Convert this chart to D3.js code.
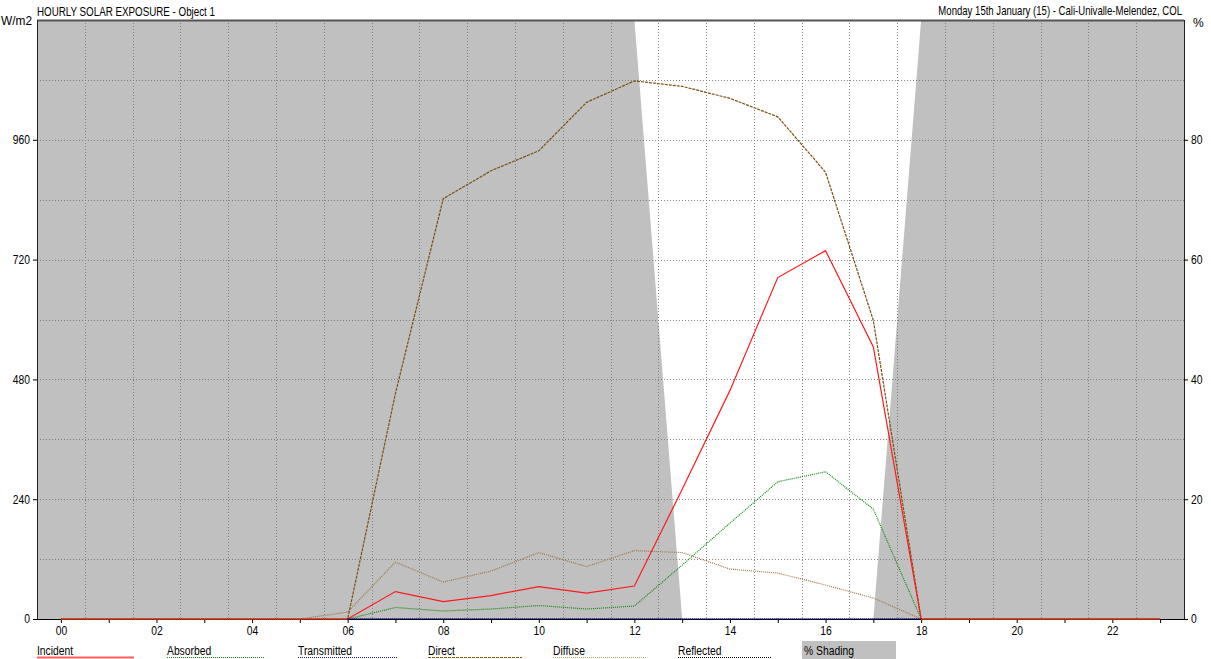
<!DOCTYPE html>
<html>
<head>
<meta charset="utf-8">
<script src="https://cdn.jsdelivr.net/npm/d3@7"></script>
<style>
html,body{margin:0;padding:0;background:#fff;}
svg{display:block;font-family:"Liberation Sans","Arial",sans-serif;}
</style>
</head>
<body>
<svg id="chart" width="1211" height="659"></svg>
<script>
const hours = d3.range(0, 24);
const hourLabels = ["00","02","04","06","08","10","12","14","16","18","20","22"];
const leftTicks = [0, 240, 480, 720, 960];
const rightTicks = [0, 20, 40, 60, 80];
const incident    = [0,0,0,0,0,0,0,55,35,47,65,52,66,260,458,684,738,545,0,0,0,0,0,0];
const absorbed    = [0,0,0,0,0,0,0,23,16,20,27,20,26,108,192,275,295,220,0,0,0,0,0,0];
const transmitted = [null,null,null,null,null,null,0,0,0,0,0,0,0,0,0,0,0,0,0,null,null,null,null,null];
const direct      = [0,0,0,0,0,0,0,452,842,898,938,1035,1078,1067,1043,1006,895,598,0,0,0,0,0,0];
const diffuse     = [0,0,0,0,0,0,14,114,74,96,133,105,137,133,100,92,68,42,0,0,0,0,0,0];
const reflected   = [null,null,null,null,null,null,0,0,0,0,0,0,0,0,0,0,0,0,0,null,null,null,null,null];
const shading     = [100,100,100,100,100,100,100,100,100,100,100,100,100,0,0,0,0,0,100,100,100,100,100,100];

const legendNames = ["Incident","Absorbed","Transmitted","Direct","Diffuse","Reflected","% Shading"];

const svg = d3.select("#chart");
const L = 37, R = 1184, T = 20, B = 619;
const x = d3.scaleLinear().domain([-0.5, 23.5]).range([L, R]);
const y = d3.scaleLinear().domain([0, 1200]).range([B, T]);
const y2 = d3.scaleLinear().domain([0, 100]).range([B, T]);
const NARROW = 0.86;

function condense(sel, ratio) {
  sel.each(function() {
    const w = this.getComputedTextLength();
    if (w > 0) d3.select(this).attr("textLength", w * ratio).attr("lengthAdjust", "spacingAndGlyphs");
  });
}

// plot background
svg.append("rect").attr("x", L).attr("y", T).attr("width", R - L).attr("height", B - T).attr("fill", "#fff");

// shading area
const shadePts = [[-0.5, shading[0]]].concat(hours.map(h => [h, shading[h]])).concat([[23.5, shading[23]]]);
svg.append("path")
  .datum(shadePts)
  .attr("fill", "#c0c0c0")
  .attr("d", d3.area().x(d => x(d[0])).y0(B).y1(d => y2(d[1])));

// grid
const g = svg.append("g");
d3.range(0.5, 23, 1).forEach(h => {
  g.append("line").attr("x1", Math.round(x(h)) + 0.5).attr("x2", Math.round(x(h)) + 0.5).attr("y1", T).attr("y2", B)
    .attr("stroke", "#808080").attr("stroke-width", 1).attr("stroke-dasharray", "1,2");
});
d3.range(120, 1200, 120).forEach(v => {
  g.append("line").attr("x1", L).attr("x2", R).attr("y1", Math.round(y(v)) + 0.5).attr("y2", Math.round(y(v)) + 0.5)
    .attr("stroke", "#808080").attr("stroke-width", 1).attr("stroke-dasharray", "1,2");
});

// frame
svg.append("line").attr("x1", L).attr("x2", R).attr("y1", T + 0.5).attr("y2", T + 0.5).attr("stroke", "#555").attr("stroke-width", 2);
svg.append("line").attr("x1", L + 0.5).attr("x2", L + 0.5).attr("y1", T).attr("y2", B).attr("stroke", "#222");
svg.append("line").attr("x1", R + 0.5).attr("x2", R + 0.5).attr("y1", T).attr("y2", B).attr("stroke", "#222");

// x axis
const xAxis = d3.axisBottom(x).tickValues(hours).tickSize(4).tickPadding(3)
  .tickFormat(h => (h % 2 === 0 ? hourLabels[h / 2] : ""));
const xa = svg.append("g").attr("transform", `translate(0,${B})`).call(xAxis);
xa.select(".domain").attr("d", `M${L},0.5H${R}`).attr("stroke", "#000");
xa.selectAll("text").attr("font-size", 12).attr("fill", "#000").attr("font-family", "inherit");
condense(xa.selectAll("text"), NARROW);

// left axis
const ya = svg.append("g").attr("transform", `translate(${L},0)`)
  .call(d3.axisLeft(y).tickValues(leftTicks).tickSize(4).tickPadding(3));
ya.select(".domain").remove();
ya.selectAll("text").attr("font-size", 12).attr("fill", "#000").attr("font-family", "inherit");
condense(ya.selectAll("text"), NARROW);

// right axis
const ra = svg.append("g").attr("transform", `translate(${R},0)`)
  .call(d3.axisRight(y2).tickValues(rightTicks).tickSize(4).tickPadding(3));
ra.select(".domain").remove();
ra.selectAll("text").attr("font-size", 12).attr("fill", "#000").attr("font-family", "inherit");
condense(ra.selectAll("text"), NARROW);

// series (drawn over axes, as in the reference)
const line = d3.line().defined(d => d[1] !== null).x(d => x(d[0])).y(d => y(d[1]));
function drawSeries(vals, color, dash, width) {
  svg.append("path")
    .datum(hours.map(h => [h, vals[h]]))
    .attr("fill", "none").attr("stroke", color).attr("stroke-width", width)
    .attr("stroke-dasharray", dash).attr("d", line);
}
drawSeries(reflected, "#000000", "1,1", 1);
drawSeries(diffuse, "#9c7844", "1,1", 1.2);
drawSeries(absorbed, "#108a10", "1,1", 1.2);
drawSeries(direct, "#7a500e", "3,1", 1.2);
drawSeries(incident, "#ff1a1a", null, 1.2);
drawSeries(transmitted, "#000080", "1,1", 1.6);

// titles
svg.append("text").attr("x", 37).attr("y", 16).attr("font-size", 12)
  .attr("textLength", 178).attr("lengthAdjust", "spacingAndGlyphs").text("HOURLY SOLAR EXPOSURE - Object 1");
svg.append("text").attr("x", 1).attr("y", 25).attr("font-size", 12)
  .attr("textLength", 31).attr("lengthAdjust", "spacingAndGlyphs").text("W/m2");
const rt = svg.append("text").attr("font-size", 12).attr("text-anchor", "end")
  .text("Monday 15th January (15) - Cali-Univalle-Melendez, COL");
const rtw = rt.node().getComputedTextLength();
rt.attr("transform", `translate(1182,15) scale(${244 / rtw},1)`);
svg.append("text").attr("x", 1193).attr("y", 27).attr("font-size", 12).text("%");

// legend
const legX = [37, 167, 298, 428, 553, 678, 802];
const legLen = [97, 98, 99, 94, 94, 93, 94];
const legStyles = [
  {c: "#ff6060", d: null, w: 2},
  {c: "#1a961a", d: "1,1", w: 1},
  {c: "#2020c8", d: "1,1", w: 1},
  {c: "#8a5a10", d: "3,1", w: 1},
  {c: "#c0a070", d: "1,1", w: 1},
  {c: "#000000", d: "1,1", w: 1},
];
legendNames.forEach((name, i) => {
  const lx = legX[i];
  if (i === 6) {
    svg.append("rect").attr("x", lx).attr("y", 641).attr("width", legLen[i]).attr("height", 18).attr("fill", "#c0c0c0");
    const t = svg.append("text").attr("x", lx + 2).attr("y", 655).attr("font-size", 12).text(name);
    condense(t, NARROW);
  } else {
    const s = legStyles[i];
    svg.append("line").attr("x1", lx).attr("x2", lx + legLen[i])
      .attr("y1", 657.5).attr("y2", 657.5).attr("stroke", s.c).attr("stroke-width", s.w).attr("stroke-dasharray", s.d);
    const t = svg.append("text").attr("x", lx).attr("y", 655).attr("font-size", 12).text(name);
    condense(t, NARROW);
  }
});
</script>
</body>
</html>
